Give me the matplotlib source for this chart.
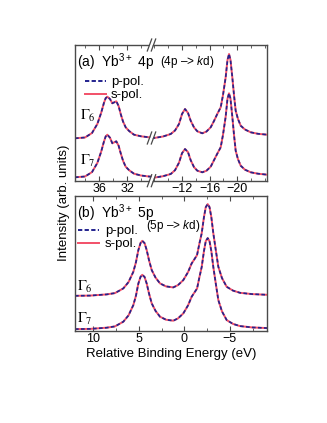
#!/usr/bin/env python3
# -*- coding: utf-8 -*-
"""Yb3+ 4p / 5p polarisation-dependent spectra (p-pol. vs s-pol.), two panels."""

import matplotlib
matplotlib.use("Agg")
import matplotlib.pyplot as plt
from matplotlib.lines import Line2D
from matplotlib.patches import Polygon
from matplotlib.ticker import MultipleLocator

plt.rcParams["font.family"] = ["Liberation Sans", "DejaVu Sans"]
plt.rcParams["mathtext.fontset"] = "custom"
plt.rcParams["mathtext.rm"] = "Liberation Sans"
plt.rcParams["mathtext.it"] = "Liberation Sans:italic"

# ---- panel (a): Yb3+ 4p, broken energy axis ----
E_4P_LEFT = [39.43, 38.0, 37.0, 36.24, 35.7, 35.3, 35.05, 34.81, 34.43, 34.1, 33.53,
             33.2, 32.9, 32.57, 32.19, 31.7, 31.0, 30.0, 28.86, 28.5]
G6_4P_LEFT = [4.24, 4.32, 4.77, 5.67, 6.77, 7.77, 8.25, 8.4, 8.17, 7.74, 7.94,
              7.47, 6.67, 5.92, 5.34, 4.97, 4.6, 4.44, 4.34, 4.32]
G7_4P_LEFT = [0.34, 0.42, 0.86, 1.77, 2.88, 3.9, 4.42, 4.6, 4.3, 3.74, 3.94,
              3.5, 2.75, 2.0, 1.4, 1.05, 0.7, 0.52, 0.42, 0.4]

E_4P_RIGHT = [-7.71, -8.07, -9.36, -10.46, -11.07, -11.64, -12.07, -12.5, -12.93, -13.31,
              -13.79, -14.26, -14.97, -15.57, -16.17, -16.64, -17.11, -17.6, -17.93, -18.31,
              -18.57, -18.79, -19.0, -19.26, -19.5, -19.74, -20.07, -20.46, -21.07, -21.89,
              -22.93, -24.26]
G6_4P_RIGHT = [4.27, 4.27, 4.42, 4.67, 5.02, 5.67, 6.67, 7.17, 6.77, 6.0,
               5.32, 4.94, 4.74, 4.92, 5.34, 5.97, 6.67, 7.34, 8.57, 10.34,
               12.07, 12.67, 12.07, 10.34, 8.57, 7.0, 6.17, 5.5, 5.12, 4.84,
               4.69, 4.6]
G7_4P_RIGHT = [0.3, 0.3, 0.45, 0.67, 1.05, 1.8, 2.75, 3.17, 2.85, 2.05,
               1.35, 1.0, 0.84, 1.0, 1.4, 2.05, 2.7, 3.34, 4.6, 6.4,
               8.2, 8.74, 8.2, 6.4, 4.6, 3.0, 2.15, 1.5, 1.1, 0.84,
               0.7, 0.6]

# ---- panel (b): Yb3+ 5p ----
E_5P = [12.01, 10.36, 8.53, 7.62, 6.7, 6.13, 5.6, 5.31, 5.05, 4.81, 4.62, 4.37, 4.13, 3.88,
        3.58, 3.16, 2.67, 2.01, 1.21, 0.69, 0.11, -0.41, -0.81, -1.12, -1.4, -1.67, -1.91,
        -2.16, -2.36, -2.57, -2.77, -2.97, -3.19, -3.46, -3.74, -4.14, -4.66, -5.35, -6.12,
        -7.44, -9.12]
G6_5P = [3.48, 3.5, 3.62, 3.75, 4.22, 4.85, 5.88, 6.85, 8.05, 8.75, 8.98, 8.75, 8.05, 7.05,
         6.05, 5.3, 4.72, 4.42, 4.32, 4.55, 5.05, 5.85, 6.72, 7.15, 7.55, 8.75, 9.72,
         11.35, 12.35, 12.65, 12.35, 11.35, 9.72, 8.05, 6.38, 5.25, 4.38, 4.0, 3.78,
         3.65, 3.58]
G7_5P = [0.15, 0.17, 0.29, 0.42, 0.89, 1.52, 2.55, 3.5, 4.7, 5.37, 5.58, 5.37, 4.7, 3.72,
         2.72, 1.97, 1.39, 1.09, 0.99, 1.22, 1.72, 2.52, 3.39, 3.82, 4.2, 5.38, 6.35,
         7.95, 8.95, 9.25, 8.95, 7.95, 6.35, 4.7, 3.05, 1.92, 1.05, 0.67, 0.45,
         0.32, 0.25]

W, H = 327, 423
P_COLOR = "#23238e"
S_COLOR = "#f25068"
FRAME = "#4a4a4a"


def px(x, y):
    """pixel position (from top-left) -> figure fraction"""
    return x / W, 1 - y / H


def style_axes(ax, major, minor):
    for s in ax.spines.values():
        s.set_color(FRAME)
        s.set_linewidth(1.0)
    ax.xaxis.set_major_locator(MultipleLocator(major))
    ax.xaxis.set_minor_locator(MultipleLocator(minor))
    ax.tick_params(axis="x", which="both", direction="in", top=True, bottom=True,
                   color=FRAME, labelsize=9, pad=2)
    ax.tick_params(axis="x", which="major", length=3.5, width=0.8)
    ax.tick_params(axis="x", which="minor", length=2, width=0.6)
    ax.set_yticks([])


def draw_pair(ax, x, y):
    ax.plot(x, y, color=S_COLOR, lw=1.4, solid_capstyle="butt")
    ax.plot(x, y, color=P_COLOR, lw=1.2, ls=(0, (2.2, 1.4)))


def break_mark(fig, xc, yc):
    # white gap + two slanted strokes, in pixel coordinates
    gap = Polygon([px(xc - 3.5, yc + 5), px(xc + 0.5, yc - 5), px(xc + 3.5, yc - 5),
                   px(xc - 0.5, yc + 5)], closed=True, transform=fig.transFigure,
                  facecolor="white", edgecolor="none", zorder=10)
    fig.patches.append(gap)
    for dx in (-2.0, 2.0):
        x0, y0 = px(xc + dx - 2.2, yc + 6)
        x1, y1 = px(xc + dx + 2.2, yc - 6)
        fig.lines.append(Line2D([x0, x1], [y0, y1], transform=fig.transFigure,
                                color=FRAME, lw=0.9, zorder=11))


fig = plt.figure(figsize=(W / 100, H / 100), dpi=100)

xl, yt = px(75, 45)
xb, yb = px(151.5, 180.7)
xr, _ = px(267.3, 45)
ax_l = fig.add_axes([xl, yb, xb - xl, yt - yb])
ax_r = fig.add_axes([xb, yb, xr - xb, yt - yb])
_, yt2 = px(75, 196)
_, yb2 = px(75, 330.6)
ax_b = fig.add_axes([xl, yb2, xr - xl, yt2 - yb2])

for ax in (ax_l, ax_r, ax_b):
    ax.patch.set_alpha(0)

draw_pair(ax_l, E_4P_LEFT, G6_4P_LEFT)
draw_pair(ax_l, E_4P_LEFT, G7_4P_LEFT)
draw_pair(ax_r, E_4P_RIGHT, G6_4P_RIGHT)
draw_pair(ax_r, E_4P_RIGHT, G7_4P_RIGHT)
draw_pair(ax_b, E_5P, G6_5P)
draw_pair(ax_b, E_5P, G7_5P)

ax_l.set_xlim(39.43, 28.5)
ax_r.set_xlim(-7.71, -24.26)
ax_b.set_xlim(12.01, -9.12)
ax_l.set_ylim(0, 13.57)
ax_r.set_ylim(0, 13.57)
ax_b.set_ylim(0, 13.46)

style_axes(ax_l, 4, 2)
style_axes(ax_r, 4, 2)
style_axes(ax_b, 5, 2.5)
ax_l.spines["right"].set_visible(False)
ax_r.spines["left"].set_visible(False)
ax_l.set_xticks([36, 32])
ax_r.set_xticks([-12, -16, -20])

# break marks on top spine, on the upper curve and bottom spine
for yc in (45, 138, 180.7):
    break_mark(fig, 151.5, yc)

# panel labels
fig.text(*px(77, 62.5), "(a)  Yb$^{3+}$ 4p", fontsize=10, va="center")
fig.text(*px(160, 62.5), "(4p \u2013> $\\it{k}$d)", fontsize=8.5, va="center")
fig.text(*px(77, 213.5), "(b)  Yb$^{3+}$ 5p", fontsize=10, va="center")
fig.text(*px(146, 226), "(5p \u2013> $\\it{k}$d)", fontsize=8.5, va="center")

for lx, ly, label in [(80, 116, r"$\Gamma_6$"), (80, 161, r"$\Gamma_7$"),
                      (77, 287, r"$\Gamma_6$"), (77, 319, r"$\Gamma_7$")]:
    fig.text(*px(lx, ly), label, fontsize=10.5, va="center", math_fontfamily="stix")

# legends
handles = [Line2D([], [], color=P_COLOR, lw=1.4, ls=(0, (2.2, 1.2))),
           Line2D([], [], color=S_COLOR, lw=1.4)]
ax_l.legend(handles, ["p-pol.", "s-pol."], loc="upper left",
            bbox_to_anchor=px(85, 76), bbox_transform=fig.transFigure,
            frameon=False, fontsize=9.5, handlelength=1.6, handletextpad=0.35,
            labelspacing=0.05, borderpad=0, borderaxespad=0)
ax_b.legend(handles, ["p-pol.", "s-pol."], loc="upper left",
            bbox_to_anchor=px(78, 225), bbox_transform=fig.transFigure,
            frameon=False, fontsize=9.5, handlelength=1.6, handletextpad=0.45,
            labelspacing=0.05, borderpad=0, borderaxespad=0)

ax_b.set_xlabel("Relative Binding Energy (eV)", fontsize=9.5, labelpad=2)
fig.text(*px(64, 203), "Intensity (arb. units)", fontsize=9.5, rotation=90,
         ha="center", va="center")

fig.savefig("out.png", dpi=100)
